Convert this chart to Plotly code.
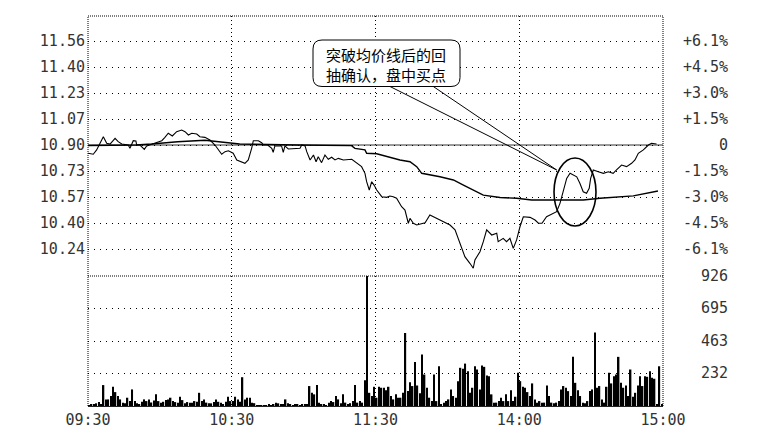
import plotly.graph_objects as go

# ---------------- data ----------------
prev_close = 10.90
time_tick_minutes = [0, 60, 120, 180, 240]
time_tick_labels = ["09:30", "10:30", "11:30", "14:00", "15:00"]
price_tick_labels = ["11.56", "11.40", "11.23", "11.07", "10.90", "10.73", "10.57", "10.40", "10.24"]
pct_tick_labels = ["+6.1%", "+4.5%", "+3.0%", "+1.5%", "0", "-1.5%", "-3.0%", "-4.5%", "-6.1%"]
pct_steps = [4, 3, 2, 1, 0, -1, -2, -3, -4]
vol_tick_values = [926, 695, 463, 232]
vol_tick_labels = ["926", "695", "463", "232"]

price_minutes = [0, 2.2, 3.6, 5.0, 6.4, 7.8, 9.2, 11.3, 12.6, 14.1, 16.8, 17.5, 18.9, 20.0, 20.3,
                 21.7, 23.5, 24.5, 26.6, 28.7, 30.8, 32.1, 33.5, 35.2, 37.0, 39.1, 40.5, 41.9, 43.3,
                 45.4, 46.7, 48.8, 50.9, 53.0, 54.4, 55.8, 57.2, 58.6, 60.6, 62.1, 65.5, 66.9, 68.3,
                 69.0, 71.1, 72.5, 73.2, 75.0, 76.7, 77.3, 78.0, 80.8, 81.5, 82.2, 83.6, 88.5, 89.2,
                 90.6, 91.3, 92.7, 94.1, 95.2, 96.1, 97.5, 98.9, 100.3, 101.7, 103.1, 104.5, 106.6,
                 110.1, 111.4, 114.2, 115.6, 116.3, 117.4, 118.4, 119.4, 120.5, 122.6, 124.7, 126.0,
                 127.4, 128.8, 130.9, 132.3, 133.7, 134.4, 135.8, 137.2, 140.7, 142.7, 144.1, 146.2,
                 148.3, 151.1, 153.2, 155.3, 157.3, 159.4, 160.8, 161.5, 163.6, 165.0, 166.4, 168.5,
                 170.6, 171.2, 173.3, 174.7, 176.1, 177.5, 178.9, 180.3, 181.7, 184.5, 186.6, 188.0,
                 189.5, 191.4, 192.8, 194.2, 195.6, 197.0, 198.4, 199.8, 201.2, 202.6, 204.0, 205.3,
                 206.7, 208.1, 209.2, 209.8, 210.9, 213.0, 215.1, 217.2, 219.2, 220.6, 222.7, 224.8,
                 226.9, 228.3, 229.7, 231.8, 233.9, 235.2, 237.3]
price_values = [10.848, 10.842, 10.869, 10.911, 10.952, 10.911, 10.906, 10.942, 10.921, 10.906, 10.900,
                10.879, 10.927, 10.925, 10.900, 10.900, 10.873, 10.894, 10.906, 10.914, 10.927, 10.948,
                10.974, 10.957, 10.984, 10.994, 10.984, 10.963, 10.974, 10.969, 10.952, 10.948, 10.931,
                10.900, 10.869, 10.842, 10.858, 10.864, 10.848, 10.806, 10.785, 10.806, 10.879, 10.927,
                10.927, 10.914, 10.900, 10.900, 10.879, 10.854, 10.894, 10.894, 10.854, 10.894, 10.875,
                10.879, 10.900, 10.894, 10.858, 10.806, 10.837, 10.795, 10.826, 10.789, 10.837, 10.810,
                10.823, 10.806, 10.816, 10.806, 10.810, 10.795, 10.764, 10.722, 10.669, 10.617, 10.669,
                10.648, 10.617, 10.575, 10.571, 10.579, 10.575, 10.565, 10.512, 10.491, 10.408, 10.439,
                10.408, 10.397, 10.411, 10.460, 10.449, 10.433, 10.418, 10.397, 10.366, 10.282, 10.198,
                10.156, 10.125, 10.177, 10.229, 10.292, 10.366, 10.334, 10.345, 10.292, 10.313, 10.292,
                10.313, 10.250, 10.303, 10.386, 10.449, 10.445, 10.428, 10.408, 10.408, 10.449, 10.460,
                10.471, 10.481, 10.533, 10.617, 10.690, 10.722, 10.711, 10.700, 10.659, 10.606, 10.596,
                10.628, 10.690, 10.743, 10.732, 10.722, 10.732, 10.722, 10.743, 10.774, 10.764, 10.785,
                10.806, 10.848, 10.869, 10.900, 10.911, 10.906]

avg_minutes = [0, 20, 26.6, 37.4, 48.8, 58.6, 63.3, 87, 96, 110, 111.4, 115.6, 116.3, 120.5, 130.2,
               134.4, 137.2, 139.3, 146.9, 152.5, 156.7, 159.4, 165, 172, 178.9, 185.2, 206.7, 213.7,
               227.6, 237.9]
avg_values = [10.897, 10.900, 10.906, 10.920, 10.930, 10.914, 10.906, 10.900, 10.897, 10.896, 10.879,
              10.869, 10.848, 10.845, 10.806, 10.795, 10.764, 10.722, 10.700, 10.680, 10.648, 10.627,
              10.585, 10.570, 10.565, 10.554, 10.554, 10.565, 10.580, 10.611]

volume_values = [
    7, 10, 12, 19, 28, 15, 149, 47, 47, 71,
    137, 99, 71, 47, 24, 20, 59, 35, 118, 35,
    19, 12, 30, 47, 35, 47, 25, 40, 83, 35,
    24, 30, 42, 47, 59, 35, 28, 24, 66, 42,
    19, 28, 24, 24, 35, 30, 94, 35, 47, 24,
    20, 19, 28, 47, 30, 24, 12, 30, 66, 35,
    35, 66, 47, 30, 205, 47, 59, 59, 24, 20,
    7, 7, 5, 7, 7, 10, 7, 12, 24, 19,
    10, 12, 47, 19, 10, 7, 12, 10, 7, 12,
    15, 12, 142, 94, 83, 149, 24, 12, 12, 7,
    24, 35, 28, 71, 47, 20, 83, 24, 12, 20,
    35, 149, 24, 35, 24, 184, 926, 94, 71, 137,
    59, 137, 130, 130, 113, 137, 71, 47, 83, 59,
    59, 94, 520, 106, 170, 142, 314, 146, 90, 366,
    224, 130, 59, 35, 224, 35, 283, 12, 24, 35,
    47, 118, 71, 59, 177, 272, 265, 302, 248, 94,
    130, 283, 260, 118, 288, 279, 217, 212, 83, 24,
    24, 35, 59, 35, 83, 35, 113, 35, 66, 236,
    177, 137, 130, 99, 71, 161, 47, 24, 35, 24,
    24, 146, 71, 24, 19, 24, 35, 118, 142, 130,
    106, 71, 350, 165, 113, 71, 24, 19, 35, 106,
    118, 524, 130, 142, 47, 24, 137, 236, 161, 212,
    224, 350, 165, 130, 146, 71, 260, 66, 94, 146,
    212, 142, 212, 208, 248, 201, 194, 12, 283, 12,
]
volume_minutes = [i + 0.5 for i in range(len(volume_values))]

callout_text = "突破均价线后的回<br>抽确认，盘中买点"

# ---------------- layout helpers ----------------
W, H = 762, 437
L, R, T, B = 88, 99, 16, 31
PW, PH = W - L - R, H - T - B


def px(x):
    return (x - L) / PW


def py(y):
    return (H - B - y) / PH


step = prev_close * 0.015
price_tickvals = [prev_close + k * step for k in pct_steps]
price_range = [prev_close - 131 / 26 * step, prev_close + 129 / 26 * step]
split = 130 / PH

mono = "DejaVu Sans Mono"
tick_font = dict(family=mono, size=15, color="#333")

fig = go.Figure()
fig.add_trace(go.Bar(x=volume_minutes, y=volume_values, xaxis="x", yaxis="y2",
                     marker=dict(color="black", line=dict(width=0)), hoverinfo="skip"))
fig.add_trace(go.Scatter(x=avg_minutes, y=avg_values, xaxis="x2", yaxis="y", mode="lines",
                         line=dict(color="black", width=1.4), hoverinfo="skip"))
fig.add_trace(go.Scatter(x=price_minutes, y=price_values, xaxis="x2", yaxis="y", mode="lines",
                         line=dict(color="black", width=1.1), hoverinfo="skip"))

grid_h = dict(showgrid=True, gridcolor="#000", gridwidth=1, griddash="1px,5px", zeroline=False,
              automargin=False)
grid_v = dict(showgrid=True, gridcolor="#000", gridwidth=1, griddash="1px,3px", zeroline=False,
              automargin=False)

fig.update_layout(
    width=W, height=H, margin=dict(l=L, r=R, t=T, b=B, autoexpand=False),
    paper_bgcolor="white", plot_bgcolor="white", showlegend=False, bargap=0.4,
    xaxis=dict(domain=[0, 1], anchor="y2", range=[0, 240], tickvals=time_tick_minutes,
               ticktext=time_tick_labels, tickfont=tick_font, ticks="", ticklabelstandoff=0,
               showline=True, linecolor="#222", linewidth=1, **grid_v),
    xaxis2=dict(domain=[0, 1], anchor="y", range=[0, 240], tickvals=time_tick_minutes,
                showticklabels=False, ticks="", **grid_v),
    yaxis=dict(domain=[split, 1], anchor="x2", range=price_range, tickvals=price_tickvals,
               ticktext=price_tick_labels, tickfont=tick_font, ticks="", ticklabelstandoff=2, **grid_h),
    yaxis2=dict(domain=[0, split], anchor="x", range=[0, 926], tickvals=vol_tick_values,
                showticklabels=False, ticks="", **grid_h),
)

shapes = []
# previous close reference line
shapes.append(dict(type="line", xref="paper", yref="y", x0=0, x1=1, y0=prev_close, y1=prev_close,
                   line=dict(color="#333", width=1), layer="below"))
# frame (densely dotted)
for (x0, y0, x1, y1) in [(0, 1, 1, 1), (0, 0, 0, 1), (1, 0, 1, 1), (0, split, 1, split)]:
    shapes.append(dict(type="line", xref="paper", yref="paper", x0=x0, y0=y0, x1=x1, y1=y1,
                       line=dict(color="#000", width=1, dash="1px,1px")))
# callout pointer lines
tip = (556.7, 170)
for bx in (390, 433.3):
    shapes.append(dict(type="line", xref="paper", yref="paper", x0=px(bx), y0=py(86.5),
                       x1=px(tip[0]), y1=py(tip[1]), line=dict(color="black", width=1)))
# callout rounded box
bx0, by0, bx1, by1, r = 313, 40, 460, 86.5, 9
path = (f"M {px(bx0 + r)},{py(by0)} L {px(bx1 - r)},{py(by0)} Q {px(bx1)},{py(by0)} {px(bx1)},{py(by0 + r)} "
        f"L {px(bx1)},{py(by1 - r)} Q {px(bx1)},{py(by1)} {px(bx1 - r)},{py(by1)} "
        f"L {px(bx0 + r)},{py(by1)} Q {px(bx0)},{py(by1)} {px(bx0)},{py(by1 - r)} "
        f"L {px(bx0)},{py(by0 + r)} Q {px(bx0)},{py(by0)} {px(bx0 + r)},{py(by0)} Z")
shapes.append(dict(type="path", xref="paper", yref="paper", path=path, fillcolor="white",
                   line=dict(color="black", width=1)))
# ellipse around the pull-back
shapes.append(dict(type="circle", xref="paper", yref="paper", x0=px(554), x1=px(596),
                   y0=py(226), y1=py(158), line=dict(color="black", width=1.6)))
fig.update_layout(shapes=shapes)

annotations = [dict(text=callout_text, xref="paper", yref="paper", x=px(324), y=py(64),
                    xanchor="left", yanchor="middle", align="left", showarrow=False,
                    font=dict(family="Noto Sans CJK SC", size=15, color="black"))]
for lab, k in zip(pct_tick_labels, pct_steps):
    annotations.append(dict(text=lab, xref="paper", yref="y", x=px(730), y=prev_close + k * step,
                            xanchor="right", yanchor="middle", showarrow=False, font=tick_font))
for lab, v in zip(vol_tick_labels, vol_tick_values):
    annotations.append(dict(text=lab, xref="paper", yref="y2", x=px(730), y=v,
                            xanchor="right", yanchor="middle", showarrow=False, font=tick_font))
fig.update_layout(annotations=annotations)

fig.write_html("out.html", config={"displayModeBar": False},
               post_script="document.body.style.margin='0';")
